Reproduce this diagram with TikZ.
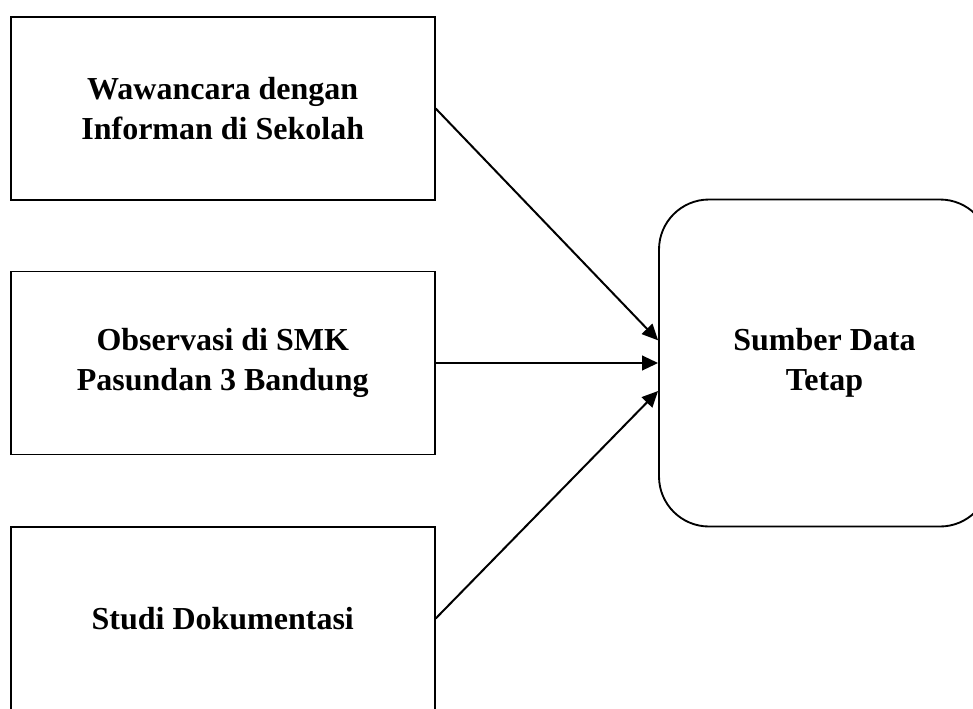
\documentclass[tikz,border=0pt]{standalone}
\usepackage{fontspec}
\setmainfont{Liberation Serif}
\usetikzlibrary{arrows.meta}
\begin{document}
\begin{tikzpicture}[x=0.75pt,y=-0.75pt,
  src/.style={draw,line width=1.4pt,rectangle,minimum width=318pt,minimum height=137.25pt,
    align=center,font=\bfseries\fontsize{24}{30}\selectfont,inner sep=0pt},
  tgt/.style={draw,line width=1.4pt,rectangle,rounded corners=37.5pt,minimum width=248.25pt,
    minimum height=245.25pt,align=center,font=\bfseries\fontsize{24}{30}\selectfont,inner sep=0pt},
  arr/.style={line width=1.5pt,-{Triangle[length=12pt,width=11pt]}}]
\useasboundingbox (0,0) rectangle (973,708);
\node[src] (b1) at (222.75,108.5) {Wawancara dengan\\Informan di Sekolah};
\node[src] (b2) at (222.75,363) {Observasi di SMK\\Pasundan 3 Bandung};
\node[src] (b3) at (222.75,618.5) {Studi Dokumentasi};
\node[tgt] (t) at (824.5,363) {Sumber Data\\Tetap};
\draw[arr] (b1.east) -- ([yshift=17pt]t.west);
\draw[arr] (b2.east) -- (t.west);
\draw[arr] (b3.east) -- ([yshift=-21pt]t.west);
\end{tikzpicture}
\end{document}
